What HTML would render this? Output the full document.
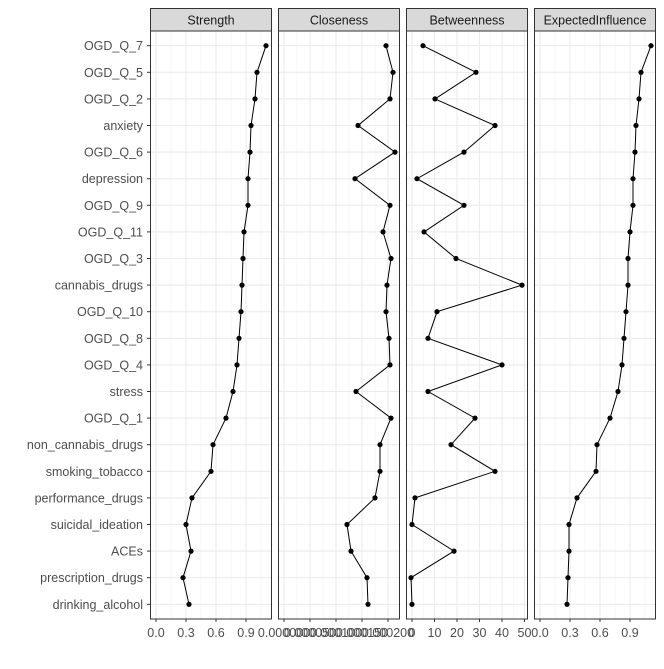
<!DOCTYPE html><html><head><style>body{margin:0;background:#fff}text{font-family:"Liberation Sans",sans-serif}</style></head><body>
<svg id="s" width="664" height="664" xmlns="http://www.w3.org/2000/svg"></svg>
<script>
(function(){
const s=document.getElementById('s');let h='';
const labels=["OGD_Q_7","OGD_Q_5","OGD_Q_2","anxiety","OGD_Q_6","depression","OGD_Q_9","OGD_Q_11","OGD_Q_3","cannabis_drugs","OGD_Q_10","OGD_Q_8","OGD_Q_4","stress","OGD_Q_1","non_cannabis_drugs","smoking_tobacco","performance_drugs","suicidal_ideation","ACEs","prescription_drugs","drinking_alcohol"];
const Y=i=>45.7+i*26.6;
const panels=[
{x0:150.5,x1:271.5,t:"Strength",ticks:[[156,"0.0"],[186,"0.3"],[216,"0.6"],[246,"0.9"]],d:[266,257,255,251,250,248,248,244,243,242,241,239,237,233,226,213,211,192,186,191,183,189]},
{x0:278.5,x1:399.5,t:"Closeness",ticks:[[284,"0.000000"],[310,"0.000050"],[336,"0.000100"],[362,"0.000150"],[388,"0.000200"]],d:[386,393,390,358,395,355,390,383,391,387,386,389,390,356,391,380,380,375,347,351,367,368]},
{x0:406.5,x1:527.5,t:"Betweenness",ticks:[[412,"0"],[434.5,"10"],[457,"20"],[479.5,"30"],[502,"40"],[524.5,"50"]],d:[423,476,435,495,464,417,464,424,456,522,437,428,502,428,475,451,495,415,412,454,411,412]},
{x0:534.5,x1:655.5,t:"ExpectedInfluence",ticks:[[540,"0.0"],[570,"0.3"],[600,"0.6"],[630,"0.9"]],d:[651,641,639,636,635,633,633,630,628,628,626,624,622,618,610,597,596,577,569,569,568,567]}];
const TOP=31,BOT=619;
panels.forEach(p=>{
 h+=`<rect x="${p.x0}" y="8.5" width="${p.x1-p.x0}" height="${TOP-8.5}" fill="#d9d9d9" stroke="#333" stroke-width="1"/>`;
 h+=`<text x="${(p.x0+p.x1)/2}" y="24.5" font-size="12.5" text-anchor="middle" fill="#1a1a1a">${p.t}</text>`;
 const tk=p.ticks, st=tk[1][0]-tk[0][0];
 for(let k=-1;k<tk.length+1;k++){const mx=tk[0][0]+st*(k+0.5);if(mx>p.x0&&mx<p.x1)h+=`<line x1="${mx}" x2="${mx}" y1="${TOP}" y2="${BOT}" stroke="#f2f2f2" stroke-width="0.6"/>`;}
 tk.forEach(t=>{h+=`<line x1="${t[0]}" x2="${t[0]}" y1="${TOP}" y2="${BOT}" stroke="#ebebeb" stroke-width="1.1"/>`;});
 labels.forEach((l,i)=>{h+=`<line x1="${p.x0}" x2="${p.x1}" y1="${Y(i)}" y2="${Y(i)}" stroke="#ebebeb" stroke-width="1.1"/>`;});
 h+=`<polyline fill="none" stroke="#000" stroke-width="1" points="${p.d.map((x,i)=>x+','+Y(i)).join(' ')}"/>`;
 p.d.forEach((x,i)=>{h+=`<circle cx="${x}" cy="${Y(i)}" r="2.6" fill="#000"/>`;});
 h+=`<rect x="${p.x0}" y="${TOP}" width="${p.x1-p.x0}" height="${BOT-TOP}" fill="none" stroke="#333" stroke-width="1"/>`;
 tk.forEach(t=>{h+=`<line x1="${t[0]}" x2="${t[0]}" y1="${BOT}" y2="${BOT+3}" stroke="#333"/><text x="${t[0]}" y="${BOT+18}" font-size="12.5" text-anchor="middle" fill="#4d4d4d">${t[1]}</text>`;});
});
labels.forEach((l,i)=>{h+=`<line x1="147" x2="150.5" y1="${Y(i)}" y2="${Y(i)}" stroke="#333"/><text x="143" y="${Y(i)+4.5}" font-size="12.5" text-anchor="end" fill="#4d4d4d">${l}</text>`;});
s.innerHTML=h;
})();
</script></body></html>
